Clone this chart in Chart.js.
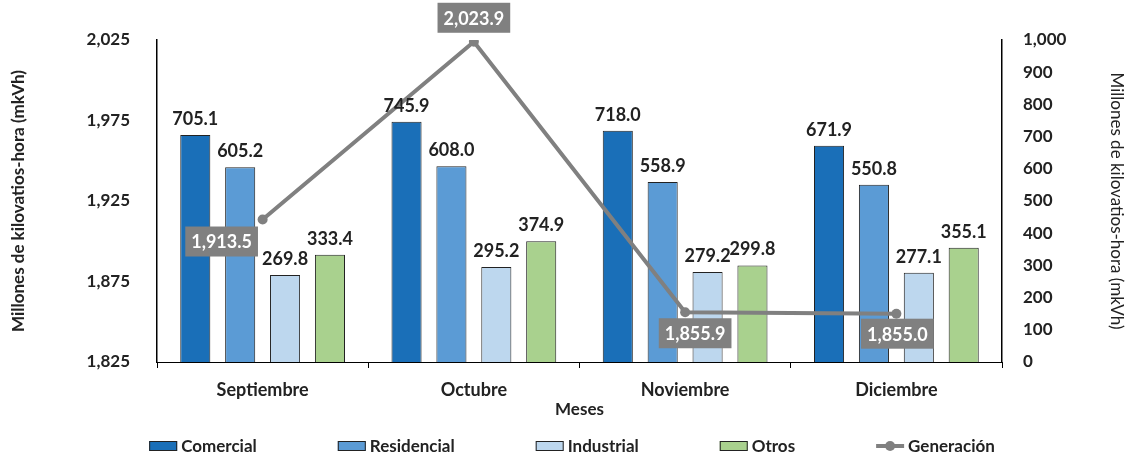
<!DOCTYPE html>
<html lang="es">
<head>
<meta charset="utf-8">
<title>Consumo y generación de energía</title>
<script src="https://cdn.jsdelivr.net/npm/chart.js@4.4.1/dist/chart.umd.min.js"></script>
<style>
  html, body { margin: 0; padding: 0; background: #fff; }
  #wrap { width: 1133px; height: 457px; position: relative; }
</style>
</head>
<body>
<div id="wrap"><canvas id="energiaChart"></canvas></div>
<script>
// datos (millones de kVh)
const meses = ['Septiembre', 'Octubre', 'Noviembre', 'Diciembre'];
const comercial = [705.1, 745.9, 718.0, 671.9];
const residencial = [605.2, 608.0, 558.9, 550.8];
const industrial = [269.8, 295.2, 279.2, 277.1];
const otros = [333.4, 374.9, 299.8, 355.1];
const generacion = [1913.5, 2023.9, 1855.9, 1855.0];

const textColor = '#222';
const grisLinea = '#808080';
const fuente = 'Lato, "Open Sans", sans-serif';

// where each Generación label sits relative to its point
const genLabelOffsets = [[-41, 22], [0, -24], [10, 21], [1, 20]];

function fmt1(v) {
    return v.toLocaleString('en-US', { minimumFractionDigits: 1, maximumFractionDigits: 1 });
}

const valueLabels = {
    id: 'valueLabels',
    afterDatasetsDraw(chart) {
        const ctx = chart.ctx;
        ctx.save();
        ctx.font = 'bold 18px ' + fuente;
        ctx.textAlign = 'center';
        chart.data.datasets.forEach((ds, i) => {
            const meta = chart.getDatasetMeta(i);
            if (meta.type !== 'bar') return;
            meta.data.forEach((bar, j) => {
                ctx.fillStyle = textColor;
                ctx.textBaseline = 'alphabetic';
                ctx.fillText(fmt1(ds.data[j]), bar.x, bar.y - 10);
            });
        });
        // etiquetas de la línea
        chart.data.datasets.forEach((ds, i) => {
            const meta = chart.getDatasetMeta(i);
            if (meta.type !== 'line') return;
            meta.data.forEach((pt, j) => {
                const txt = fmt1(ds.data[j]);
                const off = genLabelOffsets[j];
                const cx = pt.x + off[0], cy = pt.y + off[1];
                const w = ctx.measureText(txt).width + 12, h = 30;
                ctx.fillStyle = grisLinea;
                ctx.fillRect(cx - w / 2, cy - h / 2, w, h);
                ctx.fillStyle = '#fff';
                ctx.textBaseline = 'middle';
                ctx.fillText(txt, cx, cy + 1);
            });
        });
        ctx.restore();
    }
};

// legend drawn by hand so the gaps match the original
const leyenda = {
    id: 'leyenda',
    afterDraw(chart) {
        const ctx = chart.ctx;
        const boxW = 28, boxH = 10, gap = 81, y = 446;
        ctx.save();
        ctx.font = 'bold 17px ' + fuente;
        ctx.textBaseline = 'middle';
        ctx.textAlign = 'left';
        const items = chart.data.datasets.map(ds => ({ ds, w: boxW + 4 + ctx.measureText(ds.label).width }));
        const total = items.reduce((s, it) => s + it.w, 0) + gap * (items.length - 1);
        let x = 572 - total / 2;
        items.forEach(({ ds }, k) => {
            if (ds.type === 'line') {
                ctx.strokeStyle = ds.borderColor;
                ctx.lineWidth = 4;
                ctx.beginPath();
                ctx.moveTo(x, y);
                ctx.lineTo(x + boxW, y);
                ctx.stroke();
                ctx.fillStyle = ds.borderColor;
                ctx.beginPath();
                ctx.arc(x + boxW / 2, y, 5, 0, Math.PI * 2);
                ctx.fill();
            } else {
                ctx.fillStyle = ds.backgroundColor;
                ctx.fillRect(x, y - boxH / 2, boxW, boxH);
                ctx.strokeStyle = '#222';
                ctx.lineWidth = 1;
                ctx.strokeRect(x + 0.5, y - boxH / 2 + 0.5, boxW - 1, boxH - 1);
            }
            ctx.fillStyle = textColor;
            ctx.fillText(ds.label, x + boxW + 4, y + 1);
            x += items[k].w + gap;
        });
        ctx.restore();
    }
};

const barBase = { type: 'bar', yAxisID: 'y1', borderColor: '#222', borderWidth: 1, order: 1,
    categoryPercentage: 0.85, barPercentage: 0.67 };

new Chart(document.getElementById('energiaChart'), {
    data: {
        labels: meses,
        datasets: [
            { ...barBase, label: 'Comercial', data: comercial, backgroundColor: '#1a6fb8' },
            { ...barBase, label: 'Residencial', data: residencial, backgroundColor: '#5b9bd5' },
            { ...barBase, label: 'Industrial', data: industrial, backgroundColor: '#bdd7ee' },
            { ...barBase, label: 'Otros', data: otros, backgroundColor: '#a9d18e' },
            {
                type: 'line',
                label: 'Generación',
                data: generacion,
                yAxisID: 'y',
                order: 0,
                borderColor: grisLinea,
                backgroundColor: grisLinea,
                borderWidth: 4,
                pointRadius: 5,
                pointBackgroundColor: grisLinea,
                pointBorderWidth: 0,
                tension: 0
            }
        ]
    },
    options: {
        responsive: true,
        maintainAspectRatio: false,
        animation: false,
        layout: { padding: { top: 40, left: 0, right: 0, bottom: 0 } },
        plugins: {
            legend: { display: false },
            tooltip: { enabled: false }
        },
        scales: {
            x: {
                grid: { display: true, drawOnChartArea: false, drawTicks: true, tickLength: 6, color: '#000' },
                border: { display: true, color: '#000', width: 1 },
                ticks: { color: textColor, font: { family: fuente, size: 18, weight: 'bold' }, padding: 11 },
                title: { display: true, text: 'Meses', color: textColor,
                    font: { family: fuente, size: 17, weight: 'bold' }, padding: { top: 37, bottom: 37 } },
                afterFit(s) { s.height = 95; }
            },
            y: {
                position: 'left',
                min: 1825,
                max: 2025,
                grid: { display: false },
                border: { display: true, color: '#000', width: 1.5 },
                ticks: { stepSize: 50, color: textColor, padding: 19,
                    font: { family: fuente, size: 17, weight: 'bold' },
                    callback: v => v.toLocaleString('en-US') },
                title: { display: true, text: 'Millones de kilovatios-hora (mkVh)', color: textColor,
                    font: { family: fuente, size: 17, weight: 'bold' }, padding: { top: 8, bottom: 8 } },
                afterFit(s) { s.width = 157; }
            },
            y1: {
                position: 'right',
                min: 0,
                max: 1000,
                grid: { display: false },
                border: { display: true, color: '#000', width: 1.5 },
                ticks: { stepSize: 100, color: textColor, padding: 13,
                    font: { family: fuente, size: 17, weight: 'bold' },
                    callback: v => v.toLocaleString('en-US') },
                title: { display: true, text: 'Millones de kilovatios-hora (mkVh)', color: textColor,
                    font: { family: fuente, size: 17 }, padding: { top: 6, bottom: 6 } },
                afterFit(s) { s.width = 131; }
            }
        }
    },
    plugins: [valueLabels, leyenda]
});
</script>
</body>
</html>
